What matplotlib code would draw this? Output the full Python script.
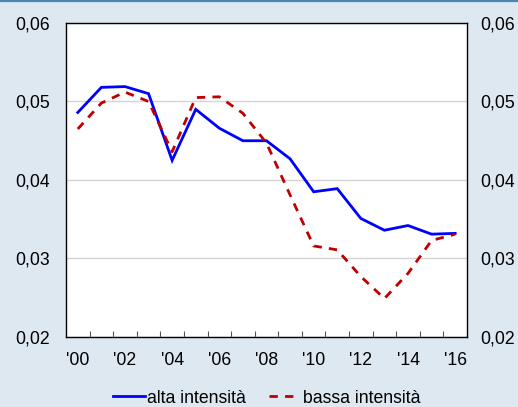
import matplotlib
matplotlib.use("Agg")
import matplotlib.pyplot as plt
from matplotlib.lines import Line2D
import numpy as np

plt.rcParams['font.family'] = ['Liberation Sans', 'DejaVu Sans']

years = list(range(2000, 2017))
tick_labels = ["'00", "'02", "'04", "'06", "'08", "'10", "'12", "'14", "'16"]
alta = [0.0486, 0.0518, 0.0519, 0.0510, 0.0425, 0.0490, 0.0466, 0.0450,
        0.0450, 0.0427, 0.0385, 0.0389, 0.0351, 0.0336, 0.0342, 0.0331, 0.0332]
bassa = [0.0465, 0.0498, 0.0512, 0.0500, 0.0436, 0.0505, 0.0506, 0.0485,
         0.0447, 0.0381, 0.0316, 0.0311, 0.0277, 0.0249, 0.0281, 0.0323, 0.0331]
y_ticks = [0.02, 0.03, 0.04, 0.05, 0.06]
y_labels = ["0,02", "0,03", "0,04", "0,05", "0,06"]

FS = 12.7
bg = '#dde8f1'
fig = plt.figure(figsize=(5.18, 4.07), dpi=100, facecolor=bg)
ax = fig.add_axes([0.1274, 0.172, 0.7741, 0.7715])
ax.set_facecolor('white')

x = np.arange(len(years))
ax.plot(x, alta, color='#0000ff', lw=2.0, solid_joinstyle='miter', zorder=3)
ax.plot(x, bassa, color='#c00000', lw=2.0, dashes=(3, 2.6), zorder=3)

ax.set_xlim(-0.5, len(years) - 0.5)
ax.set_ylim(0.02, 0.06)

# category boundaries as inward ticks, labels every other year
ax.set_xticks(np.arange(0.5, len(years) - 1, 1.0))
ax.tick_params(axis='x', which='major', direction='in', length=4, width=0.8,
               labelbottom=False, color='#555555')
ax.set_xticks(np.arange(0, len(years), 2), minor=True)
ax.set_xticklabels(tick_labels, minor=True)
ax.tick_params(axis='x', which='minor', length=0, pad=10.5, labelsize=FS)

ax.set_yticks(y_ticks)
ax.set_yticklabels(y_labels)
ax.tick_params(axis='y', length=0, pad=11.5, labelsize=FS)
ax.grid(axis='y', color='#d4d4d4', lw=1.0, zorder=0)

for s in ax.spines.values():
    s.set_linewidth(1.0)
    s.set_color('black')

ax2 = ax.twinx()
ax2.set_ylim(0.02, 0.06)
ax2.set_yticks(y_ticks)
ax2.set_yticklabels(y_labels)
ax2.tick_params(axis='y', length=0, pad=9.4, labelsize=FS)
for s in ax2.spines.values():
    s.set_visible(False)

# thin blue rule along the top edge of the figure
fig.add_artist(Line2D([0, 1], [0.997, 0.997], transform=fig.transFigure,
                      color='#4a86b6', lw=1.6))

handles = [Line2D([], [], color='#0000ff', lw=2.0),
           Line2D([], [], color='#c00000', lw=2.0, dashes=(3, 2.6))]
fig.legend(handles, ['alta intensità', 'bassa intensità'], loc='center',
           bbox_to_anchor=(0.5145, 0.022), ncol=2, frameon=False, fontsize=FS,
           handlelength=1.8, handletextpad=0.12, columnspacing=1.3)

fig.savefig('out.png', dpi=100, facecolor=bg)
